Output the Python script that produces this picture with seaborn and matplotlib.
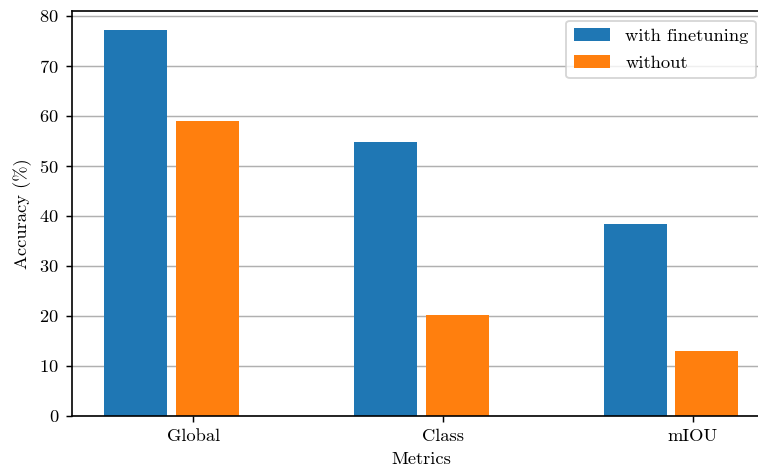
import numpy as np
import pandas as pd
import matplotlib
matplotlib.use("Agg")
import matplotlib.pyplot as plt
import seaborn as sns

# Accuracy per metric, with and without finetuning
metrics = ["Global", "Class", "mIOU"]
with_finetuning = [77.2, 54.8, 38.4]
without = [59.0, 20.2, 13.0]
series_names = ["with finetuning", "without"]
colors = ["#1f77b4", "#ff7f0e"]

plt.rcParams["font.family"] = ["cmr10", "DejaVu Serif"]
plt.rcParams["mathtext.fontset"] = "cm"
plt.rcParams["axes.formatter.use_mathtext"] = True
plt.rcParams["font.size"] = 10

df = pd.DataFrame({
    "metric": metrics * 2,
    "acc": with_finetuning + without,
    "setting": [series_names[0]] * len(metrics) + [series_names[1]] * len(metrics),
})

fig = plt.figure(figsize=(758 / 133, 471 / 133), dpi=133)
ax = fig.add_axes([0.095, 0.1168, 0.921, 0.859])

sns.barplot(data=df, x="metric", y="acc", hue="setting", order=metrics,
            hue_order=series_names, palette=colors, saturation=1,
            width=0.576, gap=0.125, linewidth=0, errorbar=None, ax=ax)

# tick labels sit slightly right of each pair's centre
tick_offset = 0.087
ax.set_xticks(np.arange(len(metrics)) + tick_offset, metrics)
ax.set_xlim(-0.399, 2.397)
ax.set_ylim(0, 80.9)
ax.set_yticks(np.arange(0, 81, 10))

ax.yaxis.grid(True, color="#b0b0b0", linewidth=0.8)
ax.xaxis.grid(False)
ax.set_axisbelow(True)
for s in ax.spines.values():
    s.set_visible(True)
    s.set_color("black")
    s.set_linewidth(0.9)

ax.set_xlabel("Metrics")
ax.set_ylabel("Accuracy (%)")
ax.legend(loc="upper right", title=None, bbox_to_anchor=(0.993, 1.0),
          labelspacing=0.6)

fig.savefig("out.png", dpi=133)
